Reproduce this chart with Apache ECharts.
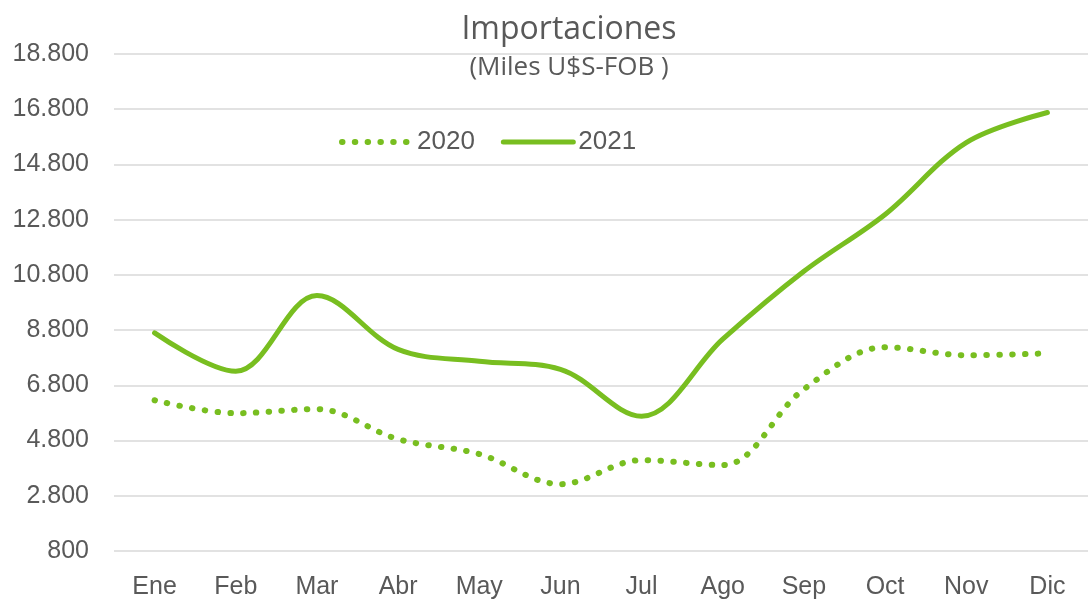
<!DOCTYPE html>
<html>
<head>
<meta charset="utf-8">
<script src="https://cdn.jsdelivr.net/npm/echarts@6/dist/echarts.min.js"></script>
<style>
  html, body { margin: 0; padding: 0; background: #fff; }
  #chart { width: 1088px; height: 600px; }
</style>
</head>
<body>
<div id="chart"></div>
<script>
var meses = ["Ene", "Feb", "Mar", "Abr", "May", "Jun", "Jul", "Ago", "Sep", "Oct", "Nov", "Dic"];
var imp2020 = [6260, 5790, 5940, 4850, 4310, 3220, 4090, 3910, 6660, 8180, 7890, 7960];
var imp2021 = [8700, 7310, 10050, 8100, 7670, 7380, 5680, 8470, 10930, 12990, 15590, 16680];

var verde = "#78be20";
var gris = "#595959";
var fuente = "Liberation Sans";

// linea punteada de 2020 (puntos redondos)
var punteado = { color: verde, width: 6, type: [0.5, 12.3], cap: "round" };
var continuo = { color: verde, width: 5, cap: "round" };

function miles(v) {
  return String(v).replace(/\B(?=(\d{3})+(?!\d))/g, ".");
}

var chart = echarts.init(document.getElementById("chart"));
var option = {
  animation: false,
  title: {
    text: "Importaciones",
    subtext: "(Miles U$S-FOB )",
    left: 564,
    top: 9,
    textAlign: "center",
    itemGap: 9,
    textStyle: { color: gris, fontFamily: "Open Sans", fontSize: 32, fontWeight: "normal" },
    subtextStyle: { color: gris, fontFamily: "Open Sans", fontSize: 26 }
  },
  legend: {
    left: 334,
    top: 124,
    itemWidth: 70,
    itemHeight: 26,
    itemGap: 26,
    itemStyle: { opacity: 0 },
    textStyle: { color: gris, fontFamily: fuente, fontSize: 26 },
    data: [
      { name: "2020", lineStyle: punteado },
      { name: "2021", lineStyle: continuo }
    ]
  },
  grid: { left: 114, right: -11, top: 54, bottom: 48 },
  xAxis: {
    type: "category",
    data: meses,
    boundaryGap: true,
    axisLine: { show: false },
    axisTick: { show: false },
    axisLabel: { color: gris, fontFamily: fuente, fontSize: 25, margin: 24 }
  },
  yAxis: {
    type: "value",
    min: 800,
    max: 18800,
    interval: 2000,
    axisLine: { show: false },
    axisTick: { show: false },
    splitLine: { lineStyle: { color: "#d9d9d9", width: 1.5 } },
    axisLabel: { color: gris, fontFamily: fuente, fontSize: 25, margin: 25, formatter: miles }
  },
  series: [
    {
      name: "2020",
      type: "line",
      data: imp2020,
      smooth: 0.35,
      symbol: "none",
      lineStyle: punteado,
      itemStyle: { color: verde }
    },
    {
      name: "2021",
      type: "line",
      data: imp2021,
      smooth: 0.35,
      symbol: "none",
      lineStyle: continuo,
      itemStyle: { color: verde }
    }
  ]
};
chart.setOption(option);
</script>
</body>
</html>
